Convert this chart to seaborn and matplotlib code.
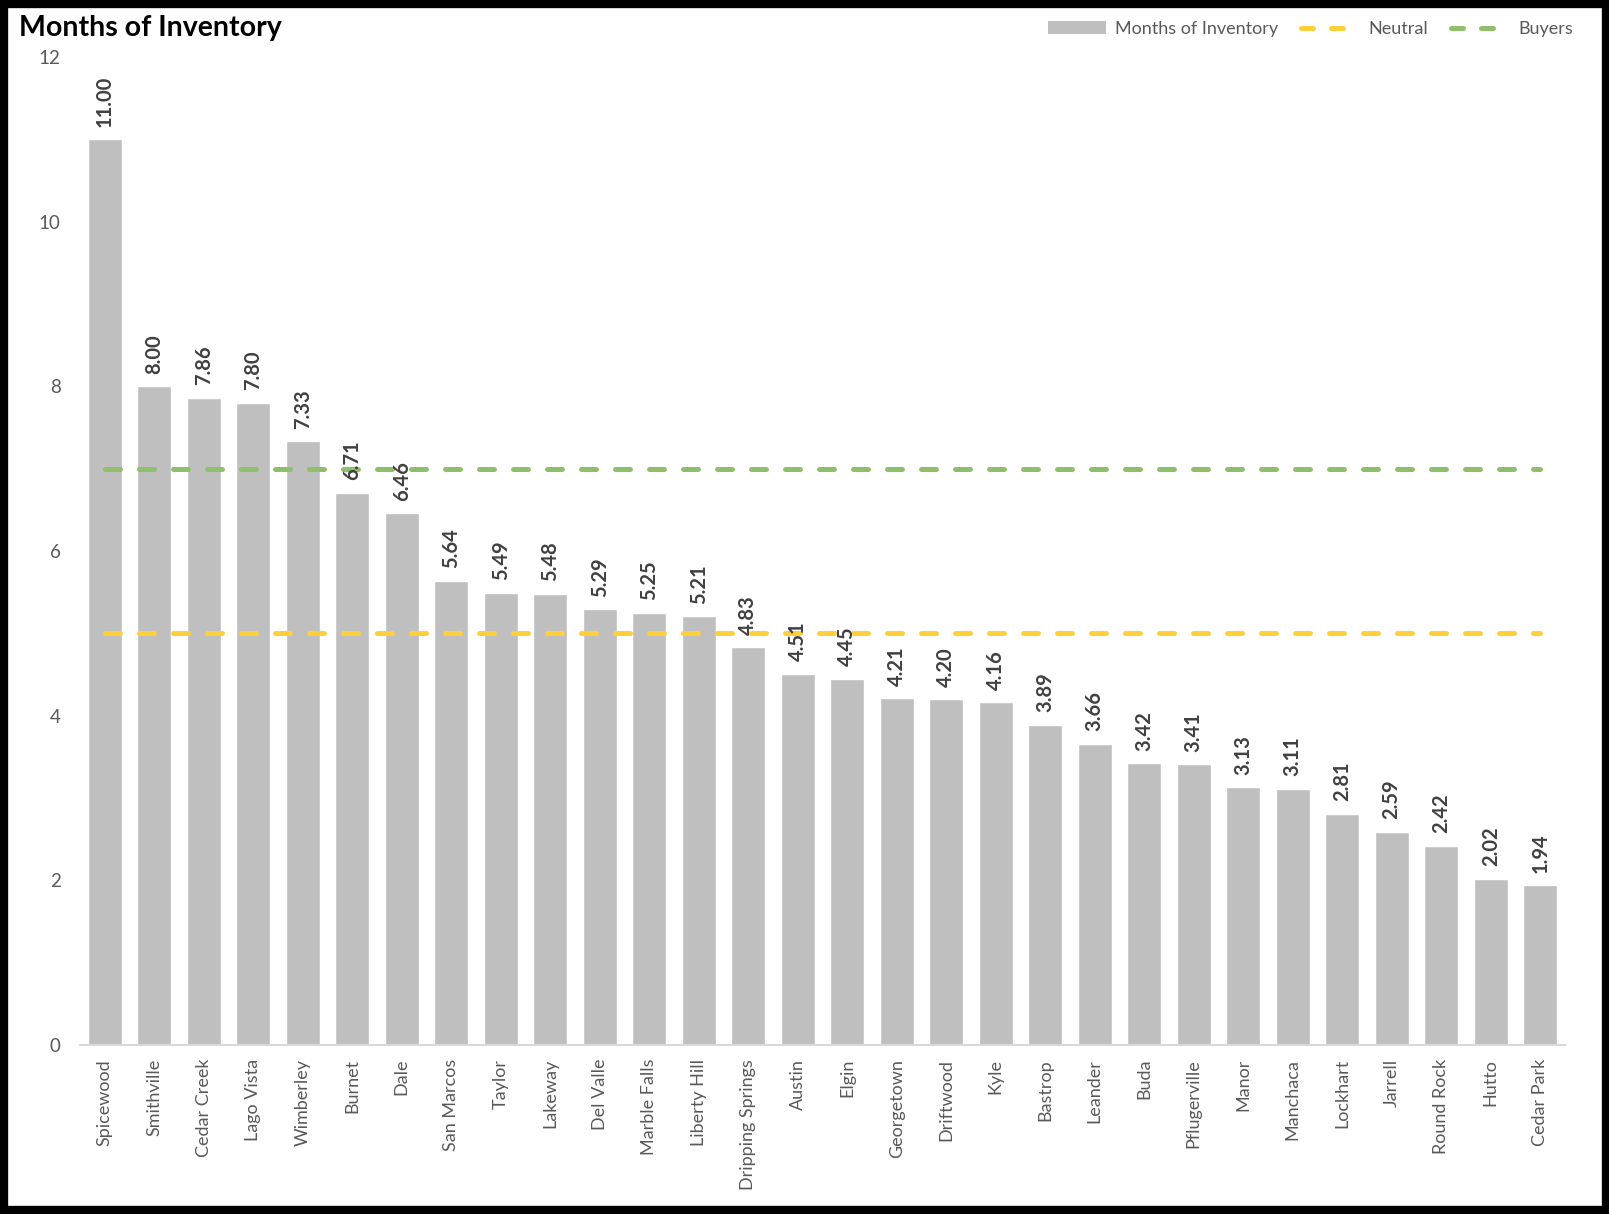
import pandas as pd
import matplotlib

matplotlib.use("Agg")
import matplotlib.pyplot as plt
from matplotlib.patches import Rectangle, Patch
from matplotlib.lines import Line2D
import seaborn as sns

# Datos
ciudades = [
    "Spicewood", "Smithville", "Cedar Creek", "Lago Vista", "Wimberley",
    "Burnet", "Dale", "San Marcos", "Taylor", "Lakeway", "Del Valle",
    "Marble Falls", "Liberty Hill", "Dripping Springs", "Austin", "Elgin",
    "Georgetown", "Driftwood", "Kyle", "Bastrop", "Leander", "Buda",
    "Pflugerville", "Manor", "Manchaca", "Lockhart", "Jarrell", "Round Rock",
    "Hutto", "Cedar Park",
]
meses = [
    11.00, 8.00, 7.86, 7.80, 7.33, 6.71, 6.46, 5.64, 5.49, 5.48, 5.29,
    5.25, 5.21, 4.83, 4.51, 4.45, 4.21, 4.20, 4.16, 3.89, 3.66, 3.42,
    3.41, 3.13, 3.11, 2.81, 2.59, 2.42, 2.02, 1.94,
]
nivel_neutral = 5
nivel_buyers = 7

df = pd.DataFrame({"Ciudad": ciudades, "Meses": meses})

# Colores
gris = "#BFBFBF"
amarillo = "#FFCF3A"
verde = "#8FBF6A"
texto = "#595959"

sns.set_theme(style="white")
plt.rcParams["font.family"] = ["Lato", "DejaVu Sans"]

W, H = 1609, 1214
fig = plt.figure(figsize=(W / 100, H / 100), dpi=100, facecolor="white")
# Marco negro alrededor de la figura
fig.patches.append(
    Rectangle((4 / W, 4 / H), (W - 7) / W, (H - 8) / H,
              transform=fig.transFigure, facecolor="none", edgecolor="black",
              linewidth=6, zorder=10)
)
ax = fig.add_axes([80 / W, 169 / H, 1485 / W, (1045 - 57) / H])

sns.barplot(data=df, x="Ciudad", y="Meses", color=gris, saturation=1,
            width=0.69, ax=ax, zorder=2)

# Lineas de referencia
estilo = dict(linewidth=3.6, dashes=(3, 3.8), dash_capstyle="round", zorder=3)
ax.plot(ciudades, [nivel_neutral] * len(ciudades), color=amarillo, **estilo)
ax.plot(ciudades, [nivel_buyers] * len(ciudades), color=verde, **estilo)

# Etiquetas de valor
for i, v in enumerate(meses):
    ax.annotate(f"{v:.2f}", (i, v), xytext=(0, 9), textcoords="offset points",
                rotation=90, ha="center", va="bottom", fontsize=14.5,
                fontweight="bold", color="#404040", zorder=4)

ax.set_ylim(0, 12)
ax.set_yticks(range(0, 13, 2))
ax.set_xlim(-0.5, len(ciudades) - 0.5)
ax.set_xlabel("")
ax.set_ylabel("")
for lado in ["top", "right", "left"]:
    ax.spines[lado].set_visible(False)
ax.spines["bottom"].set_color("#D9D9D9")
ax.spines["bottom"].set_linewidth(1.5)
ax.tick_params(axis="y", length=0, pad=14, labelsize=13.5, labelcolor=texto)
ax.tick_params(axis="x", length=0, pad=10, labelsize=13, labelcolor=texto,
               rotation=90)

fig.text(19 / W, 1 - 28 / H, "Months of Inventory", fontsize=20.5,
         fontweight="bold", color="black", ha="left", va="center")

handles = [
    Patch(facecolor=gris, edgecolor="none"),
    Line2D([], [], color=amarillo, linewidth=3.6, dashes=(2.4, 3.6),
           dash_capstyle="round"),
    Line2D([], [], color=verde, linewidth=3.6, dashes=(2.4, 3.6),
           dash_capstyle="round"),
]
fig.legend(handles, ["Months of Inventory", "Neutral", "Buyers"],
           loc="center right", bbox_to_anchor=(1589 / W, 1 - 29 / H),
           ncol=3, frameon=False, fontsize=13, labelcolor=texto,
           handlelength=3.2, handletextpad=0.5, columnspacing=1.3)

plt.savefig("out.png", dpi=100)
plt.close()
